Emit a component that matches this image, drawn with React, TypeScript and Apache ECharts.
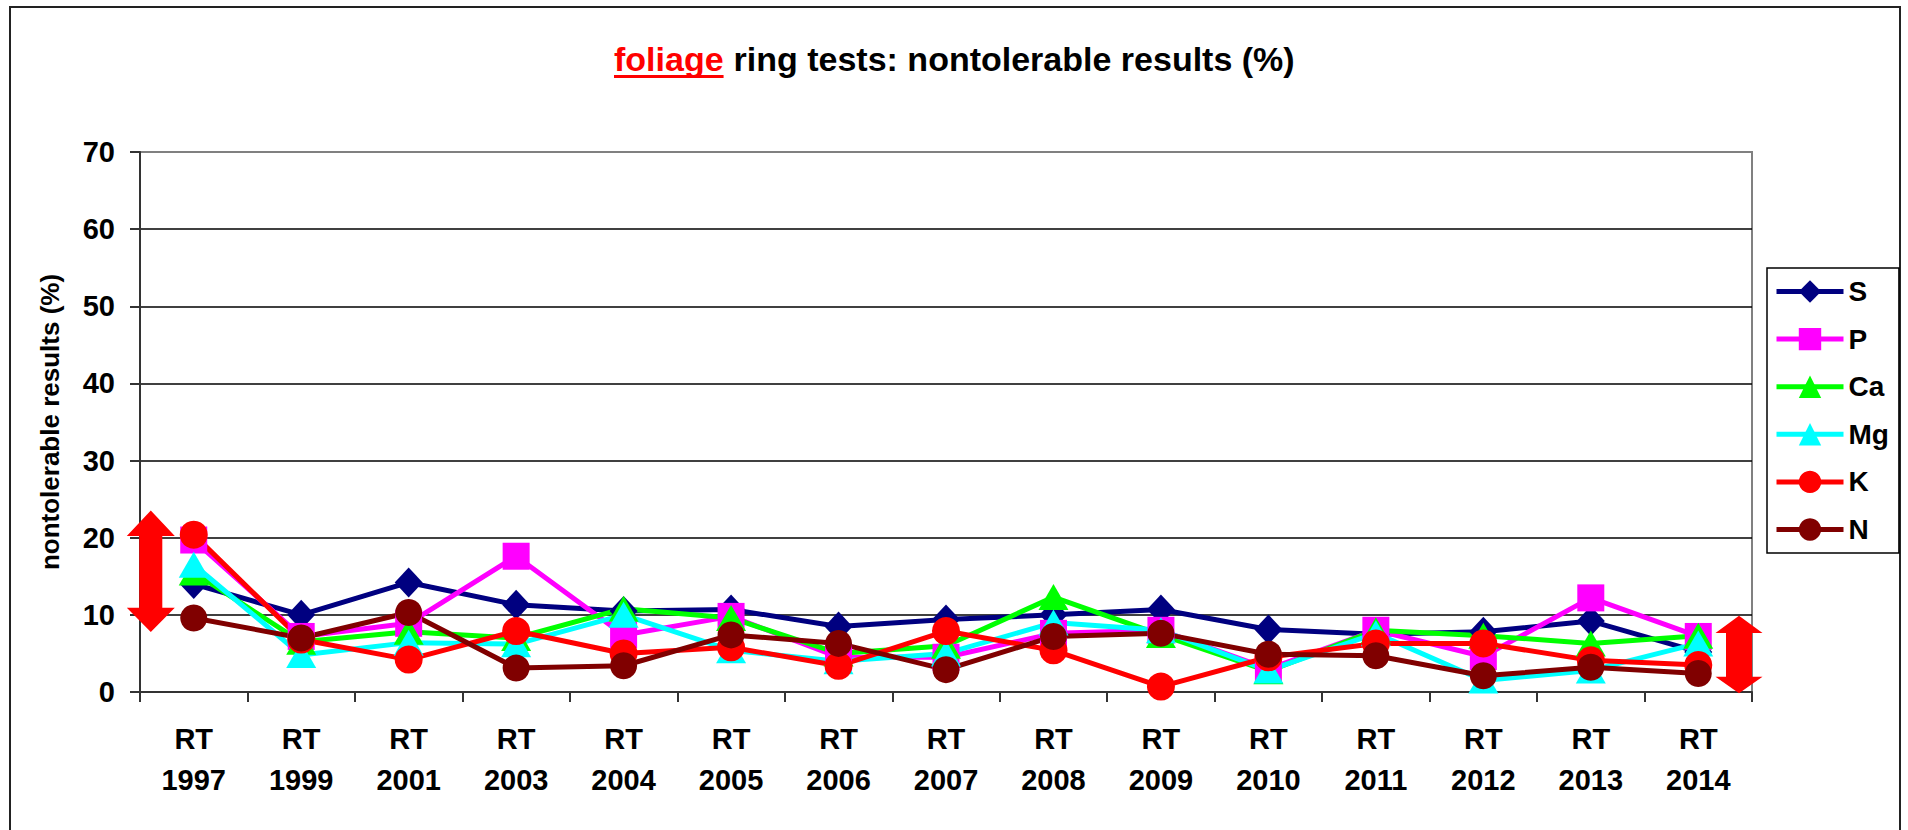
import React, { useEffect, useRef } from "react";
import * as echarts from "echarts";

const categories = ["1997", "1999", "2001", "2003", "2004", "2005", "2006", "2007", "2008", "2009", "2010", "2011", "2012", "2013", "2014"];
const yTicks = [0, 10, 20, 30, 40, 50, 60, 70];

const S = [14, 10, 14.2, 11.3, 10.5, 10.7, 8.5, 9.4, 10, 10.7, 8.1, 7.5, 7.8, 9.2, 5.2];
const P = [19.7, 7.2, 8.9, 17.6, 7.4, 9.8, 4.5, 4.5, 7.6, 8.0, 3.0, 8.0, 4.6, 12.2, 7.2];
const Ca = [15.5, 6.5, 7.8, 7.0, 10.8, 9.6, 5.0, 6.0, 12.3, 7.4, 2.7, 8.0, 7.3, 6.3, 7.3];
const Mg = [16.5, 4.8, 6.4, 6.2, 10.0, 5.4, 4.0, 5.0, 9.0, 8.0, 2.8, 7.6, 1.5, 2.8, 6.3];
const K = [20.4, 6.8, 4.2, 7.9, 5.0, 5.8, 3.4, 7.9, 5.4, 0.7, 4.5, 6.3, 6.3, 4.1, 3.5];
const N = [9.6, 7.0, 10.3, 3.1, 3.4, 7.4, 6.3, 2.9, 7.2, 7.6, 4.9, 4.7, 2.1, 3.2, 2.4];

const FONT = "'Liberation Sans', Arial, sans-serif";

const seriesDefs = [
  { name: "S", data: S, color: "#000080", symbol: "diamond", size: [28, 30] },
  { name: "P", data: P, color: "#FF00FF", symbol: "rect", size: [27, 27] },
  { name: "Ca", data: Ca, color: "#00FF00", symbol: "triangle", size: [30, 26] },
  { name: "Mg", data: Mg, color: "#00FFFF", symbol: "triangle", size: [30, 26] },
  { name: "K", data: K, color: "#FF0000", symbol: "circle", size: [28, 28] },
  { name: "N", data: N, color: "#800000", symbol: "circle", size: [27, 27] },
];

function arrow(cx: number, top: number, headTop: number, headBot: number, bottom: number, hw: number, sw: number) {
  return [
    [cx, top],
    [cx + hw, headTop],
    [cx + sw, headTop],
    [cx + sw, headBot],
    [cx + hw, headBot],
    [cx, bottom],
    [cx - hw, headBot],
    [cx - sw, headBot],
    [cx - sw, headTop],
    [cx - hw, headTop],
  ];
}

export default function App() {
  const ref = useRef<HTMLDivElement>(null);
  useEffect(() => {
    document.body.style.margin = "0";
    document.body.style.overflow = "hidden";
    const chart = echarts.init(ref.current!, null, { renderer: "svg" });

    const titleFont = "bold 34px 'Liberation Sans', Arial, sans-serif";
    let folW = 109;
    try {
      const ctx = document.createElement("canvas").getContext("2d");
      if (ctx) {
        ctx.font = titleFont;
        folW = ctx.measureText("foliage").width;
      }
    } catch (e) {}

    const option: any = {
      animation: false,
      backgroundColor: "#fff",
      grid: {
        left: 140,
        right: 156,
        top: 152,
        bottom: 138,
        show: true,
        borderColor: "#808080",
        borderWidth: 2,
      },
      legend: {
        orient: "vertical",
        left: 1767,
        top: 268,
        itemWidth: 67,
        itemHeight: 28,
        itemGap: 19.6,
        padding: [9.5, 10, 9.5, 7],
        borderColor: "#000",
        borderWidth: 1.5,
        lineStyle: { width: 5 },
        textStyle: { fontSize: 28, fontWeight: "bold", fontFamily: FONT, color: "#000" },
        data: seriesDefs.map((s) => s.name),
      },
      xAxis: {
        type: "category",
        data: categories.map((c) => "RT\n" + c),
        boundaryGap: true,
        axisLine: { lineStyle: { color: "#333", width: 2 } },
        axisTick: { show: true, length: 10, lineStyle: { color: "#333", width: 2 } },
        axisLabel: {
          interval: 0,
          color: "#000",
          fontSize: 29,
          fontWeight: "bold",
          fontFamily: FONT,
          lineHeight: 41,
          margin: 26,
        },
      },
      yAxis: {
        type: "value",
        min: yTicks[0],
        max: yTicks[yTicks.length - 1],
        interval: 10,
        name: "nontolerable results (%)",
        nameLocation: "middle",
        nameGap: 77,
        nameTextStyle: { fontSize: 26, fontWeight: "bold", fontFamily: FONT, color: "#000" },
        axisLine: { show: true, lineStyle: { color: "#333", width: 2 } },
        axisTick: { show: true, length: 10, lineStyle: { color: "#333", width: 2 } },
        axisLabel: { color: "#000", fontSize: 29, fontWeight: "bold", fontFamily: FONT, margin: 25 },
        splitLine: { show: true, showMinLine: false, showMaxLine: false, lineStyle: { color: "#000", width: 1.5 } },
      },
      series: seriesDefs.map((s) => ({
        name: s.name,
        type: "line",
        data: s.data,
        symbol: s.symbol,
        symbolSize: s.size,
        color: s.color,
        itemStyle: { color: s.color },
        lineStyle: { color: s.color, width: 5 },
      })),
      graphic: [
        {
          type: "rect",
          silent: true,
          z: 0,
          shape: { x: 10, y: 7, width: 1890, height: 840 },
          style: { fill: "none", stroke: "#222", lineWidth: 2 },
        },
        {
          type: "text",
          x: 614,
          y: 59,
          style: {
            text: "foliage",
            fill: "#FF0000",
            font: titleFont,
            verticalAlign: "middle",
            align: "left",
          },
        },
        {
          type: "rect",
          shape: { x: 614, y: 75, width: folW, height: 3 },
          style: { fill: "#FF0000" },
        },
        {
          type: "text",
          x: 614 + folW + 10,
          y: 59,
          style: {
            text: "ring tests: nontolerable results (%)",
            fill: "#000",
            font: titleFont,
            verticalAlign: "middle",
            align: "left",
          },
        },
        {
          type: "polygon",
          z: 100,
          shape: { points: arrow(150.8, 510.5, 536, 607.7, 632, 24, 11.5) },
          style: { fill: "#FF0000" },
        },
        {
          type: "polygon",
          z: 100,
          shape: { points: arrow(1739, 615.7, 633, 676.7, 693.3, 23.5, 13) },
          style: { fill: "#FF0000" },
        },
      ],
    };
    chart.setOption(option);
    return () => chart.dispose();
  }, []);
  return <div ref={ref} style={{ width: 1908, height: 830 }} />;
}
